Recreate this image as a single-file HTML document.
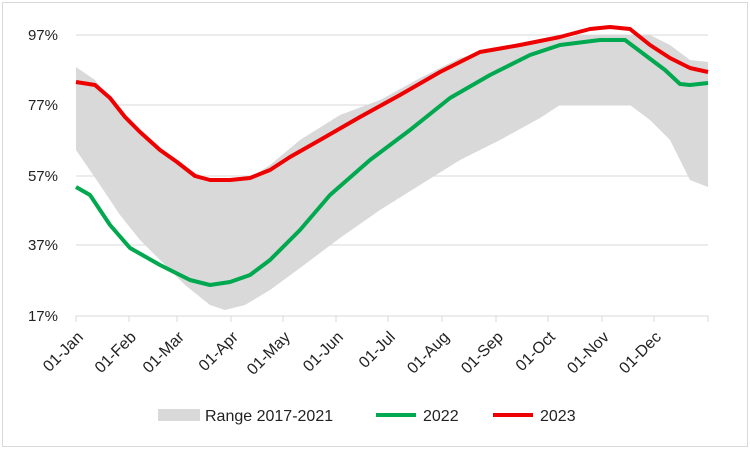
<!DOCTYPE html>
<html><head><style>body{margin:0;background:#fff}svg{display:block}text{font-family:"Liberation Sans",sans-serif;fill:#222}</style></head>
<body>
<svg width="750" height="449" viewBox="0 0 750 449">
<rect x="2.5" y="2.5" width="745" height="444" fill="#fff" stroke="#d9d9d9"/>
<g stroke="#d9d9d9" stroke-width="1">
<line x1="76" y1="35" x2="708" y2="35"/><line x1="76" y1="105" x2="708" y2="105"/><line x1="76" y1="176" x2="708" y2="176"/><line x1="76" y1="245" x2="708" y2="245"/><line x1="76" y1="316" x2="708" y2="316"/>
<line x1="76" y1="316" x2="76" y2="322"/><line x1="129" y1="316" x2="129" y2="322"/><line x1="177" y1="316" x2="177" y2="322"/><line x1="231" y1="316" x2="231" y2="322"/><line x1="283" y1="316" x2="283" y2="322"/><line x1="336" y1="316" x2="336" y2="322"/><line x1="388" y1="316" x2="388" y2="322"/><line x1="442" y1="316" x2="442" y2="322"/><line x1="496" y1="316" x2="496" y2="322"/><line x1="548" y1="316" x2="548" y2="322"/><line x1="602" y1="316" x2="602" y2="322"/><line x1="654" y1="316" x2="654" y2="322"/><line x1="708" y1="316" x2="708" y2="322"/>
</g>
<g font-size="15" text-anchor="end">
<text x="58" y="40">97%</text><text x="58" y="110">77%</text><text x="58" y="181">57%</text><text x="58" y="250">37%</text><text x="58" y="321">17%</text>
</g>
<polygon fill="#d9d9d9" points="76,67 95,80 115,105 140,132 165,155 190,170 210,180 230,182 250,178 270,165 300,140 340,115 380,100 420,78 460,58 500,48 540,43 580,35 620,35 650,35 670,45 690,60 708,62 708,187 690,180 670,140 650,120 630,105 600,105 560,105 540,118 500,140 460,160 420,185 380,210 340,238 300,268 270,290 245,305 225,310 210,305 185,285 165,265 140,240 120,215 100,185 76,150"/>
<polyline fill="none" stroke="#00a84f" stroke-width="4" stroke-linejoin="round" points="76,187 90,195 110,225 130,248 160,265 190,280 210,285 230,282 250,275 270,260 300,230 330,195 370,160 410,130 450,98 490,75 530,55 560,45 600,40 625,40 645,55 665,70 680,84 690,85 708,83"/>
<polyline fill="none" stroke="#ee0000" stroke-width="4" stroke-linejoin="round" points="76,82 95,85 110,98 125,117 140,132 160,150 177,162 195,176 210,180 230,180 250,178 270,170 290,157 320,140 360,117 400,95 440,72 480,52 520,45 560,37 590,29 610,27 630,29 650,45 670,58 690,68 708,72"/>
<g font-size="16" text-anchor="end">
<text transform="translate(84,338) rotate(-45)">01-Jan</text>
<text transform="translate(137,338) rotate(-45)">01-Feb</text>
<text transform="translate(185,338) rotate(-45)">01-Mar</text>
<text transform="translate(239,338) rotate(-45)">01-Apr</text>
<text transform="translate(291,338) rotate(-45)">01-May</text>
<text transform="translate(344,338) rotate(-45)">01-Jun</text>
<text transform="translate(396,338) rotate(-45)">01-Jul</text>
<text transform="translate(450,338) rotate(-45)">01-Aug</text>
<text transform="translate(504,338) rotate(-45)">01-Sep</text>
<text transform="translate(556,338) rotate(-45)">01-Oct</text>
<text transform="translate(610,338) rotate(-45)">01-Nov</text>
<text transform="translate(662,338) rotate(-45)">01-Dec</text>
</g>
<rect x="158" y="409" width="42" height="12" fill="#d9d9d9"/>
<text x="205" y="421" font-size="16">Range 2017-2021</text>
<line x1="376" y1="415" x2="416" y2="415" stroke="#00a84f" stroke-width="4"/>
<text x="423" y="421" font-size="16">2022</text>
<line x1="493" y1="415" x2="533" y2="415" stroke="#ee0000" stroke-width="4"/>
<text x="540" y="421" font-size="16">2023</text>
</svg>
</body></html>
